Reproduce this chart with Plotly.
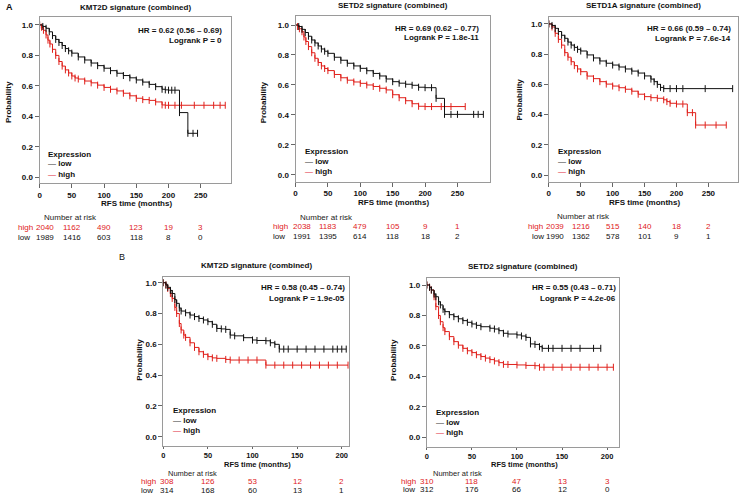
import plotly.graph_objects as go

W, H = 740, 496
RED = "#e0201b"
BLACK = "#111111"
BOX = "#9a9a9a"
FONT = "Liberation Sans, Arial, sans-serif"

# ---------------- data ----------------
# Panel A1: KMT2D signature (combined)
a1_low_t = [0, 5, 10, 15, 20, 25, 30, 35, 40, 45, 50, 60, 70, 80, 90, 100, 110, 120, 130, 140, 150, 160, 170, 180, 190, 195, 200, 205, 210, 217, 230, 238, 245]
a1_low_s = [1.0, 0.99, 0.978, 0.955, 0.93, 0.905, 0.885, 0.865, 0.845, 0.83, 0.815, 0.79, 0.77, 0.75, 0.733, 0.716, 0.70, 0.683, 0.668, 0.653, 0.639, 0.625, 0.61, 0.595, 0.578, 0.574, 0.572, 0.572, 0.572, 0.425, 0.289, 0.289, 0.289]
a1_high_t = [0, 3, 6, 10, 13, 16, 20, 25, 30, 35, 40, 45, 50, 55, 60, 70, 80, 90, 100, 110, 120, 130, 140, 150, 160, 170, 180, 190, 195, 200, 210, 220, 240, 255, 270, 280, 288]
a1_high_s = [1.0, 0.985, 0.965, 0.934, 0.9, 0.875, 0.84, 0.80, 0.76, 0.73, 0.705, 0.685, 0.665, 0.652, 0.645, 0.632, 0.62, 0.605, 0.59, 0.578, 0.567, 0.552, 0.535, 0.519, 0.51, 0.505, 0.495, 0.475, 0.473, 0.473, 0.473, 0.473, 0.473, 0.473, 0.473, 0.473, 0.473]

# Panel A2: SETD2 signature (combined)
a2_low_t = [0, 5, 10, 15, 20, 25, 30, 35, 40, 45, 50, 60, 70, 80, 90, 100, 110, 120, 130, 140, 150, 160, 170, 180, 190, 200, 210, 217, 230, 240, 250, 275, 282, 290]
a2_low_s = [1.0, 0.99, 0.971, 0.95, 0.925, 0.90, 0.88, 0.86, 0.84, 0.825, 0.811, 0.785, 0.765, 0.745, 0.727, 0.711, 0.695, 0.677, 0.66, 0.64, 0.622, 0.612, 0.605, 0.598, 0.585, 0.582, 0.582, 0.511, 0.404, 0.404, 0.404, 0.404, 0.404, 0.404]
a2_high_t = [0, 3, 6, 10, 13, 16, 20, 25, 30, 35, 40, 45, 50, 60, 70, 80, 90, 100, 110, 120, 130, 140, 150, 160, 170, 180, 190, 200, 210, 225, 240, 262]
a2_high_s = [1.0, 0.99, 0.975, 0.955, 0.92, 0.89, 0.856, 0.815, 0.778, 0.75, 0.727, 0.71, 0.696, 0.67, 0.648, 0.632, 0.62, 0.611, 0.60, 0.59, 0.578, 0.567, 0.535, 0.515, 0.495, 0.475, 0.458, 0.456, 0.456, 0.456, 0.456, 0.456]

# Panel A3: SETD1A signature (combined)
a3_low_t = [0, 5, 10, 15, 20, 25, 30, 35, 40, 45, 50, 60, 70, 80, 90, 100, 110, 120, 130, 140, 150, 160, 165, 170, 175, 180, 190, 200, 210, 245, 288]
a3_low_s = [1.0, 0.99, 0.971, 0.95, 0.925, 0.905, 0.88, 0.86, 0.845, 0.832, 0.821, 0.795, 0.775, 0.755, 0.74, 0.728, 0.715, 0.702, 0.688, 0.675, 0.656, 0.635, 0.618, 0.60, 0.58, 0.572, 0.572, 0.572, 0.572, 0.572, 0.572]
a3_high_t = [0, 5, 10, 15, 20, 25, 30, 35, 40, 45, 50, 60, 70, 80, 90, 100, 110, 120, 130, 140, 150, 160, 170, 180, 185, 190, 200, 210, 217, 225, 230, 245, 262, 278]
a3_high_s = [1.0, 0.98, 0.938, 0.898, 0.86, 0.81, 0.78, 0.75, 0.724, 0.702, 0.684, 0.655, 0.638, 0.618, 0.602, 0.589, 0.578, 0.568, 0.555, 0.535, 0.519, 0.512, 0.508, 0.498, 0.486, 0.475, 0.47, 0.47, 0.413, 0.413, 0.331, 0.331, 0.331, 0.331]

# Panel B1: KMT2D signature (combined)
b1_low_t = [0, 3, 5, 8, 10, 13, 15, 18, 20, 25, 30, 35, 40, 45, 50, 55, 60, 65, 70, 75, 80, 90, 100, 105, 115, 120, 125, 130, 135, 140, 150, 160, 170, 180, 190, 195, 200, 205]
b1_low_s = [1.0, 0.985, 0.97, 0.95, 0.93, 0.89, 0.866, 0.835, 0.816, 0.805, 0.79, 0.78, 0.768, 0.758, 0.747, 0.73, 0.703, 0.70, 0.697, 0.66, 0.655, 0.643, 0.628, 0.625, 0.623, 0.61, 0.60, 0.569, 0.569, 0.569, 0.569, 0.569, 0.569, 0.569, 0.569, 0.569, 0.569, 0.569]
b1_high_t = [0, 3, 5, 8, 10, 13, 15, 18, 20, 23, 25, 30, 35, 40, 45, 50, 55, 60, 70, 75, 85, 95, 105, 115, 125, 135, 145, 155, 165, 175, 185, 195, 207]
b1_high_s = [1.0, 0.985, 0.963, 0.93, 0.898, 0.84, 0.80, 0.735, 0.693, 0.66, 0.645, 0.61, 0.58, 0.552, 0.535, 0.52, 0.512, 0.509, 0.502, 0.498, 0.498, 0.498, 0.498, 0.465, 0.465, 0.465, 0.465, 0.465, 0.465, 0.465, 0.465, 0.465, 0.465]

# Panel B2: SETD2 signature (combined)
b2_low_t = [0, 3, 5, 8, 10, 13, 15, 18, 20, 25, 30, 35, 40, 45, 50, 55, 60, 70, 75, 80, 85, 90, 100, 105, 110, 115, 120, 125, 128, 135, 140, 150, 160, 170, 185, 193]
b2_low_s = [1.0, 0.985, 0.967, 0.94, 0.923, 0.89, 0.869, 0.84, 0.825, 0.805, 0.792, 0.778, 0.766, 0.755, 0.744, 0.735, 0.726, 0.716, 0.711, 0.70, 0.683, 0.678, 0.672, 0.665, 0.656, 0.613, 0.61, 0.595, 0.584, 0.584, 0.584, 0.584, 0.584, 0.584, 0.584, 0.584]
b2_high_t = [0, 3, 5, 8, 10, 13, 15, 18, 20, 25, 30, 35, 40, 45, 50, 55, 60, 65, 70, 75, 80, 85, 90, 100, 110, 120, 125, 130, 140, 150, 160, 170, 180, 190, 200, 207]
b2_high_s = [1.0, 0.985, 0.967, 0.923, 0.858, 0.80, 0.759, 0.72, 0.694, 0.661, 0.628, 0.605, 0.584, 0.568, 0.556, 0.542, 0.53, 0.52, 0.51, 0.501, 0.49, 0.479, 0.478, 0.475, 0.472, 0.47, 0.46, 0.46, 0.46, 0.46, 0.46, 0.46, 0.46, 0.46, 0.46, 0.46]

# Numbers at risk
a_risk_times = [0, 50, 100, 150, 200, 250]
b_risk_times = [0, 50, 100, 150, 200]
a1_risk_high = [2040, 1162, 490, 123, 19, 3]
a1_risk_low = [1989, 1416, 603, 118, 8, 0]
a2_risk_high = [2038, 1183, 479, 105, 9, 1]
a2_risk_low = [1991, 1395, 614, 118, 18, 2]
a3_risk_high = [2039, 1216, 515, 140, 18, 2]
a3_risk_low = [1990, 1362, 578, 101, 9, 1]
b1_risk_high = [308, 126, 53, 12, 2]
b1_risk_low = [314, 168, 60, 13, 1]
b2_risk_high = [310, 118, 47, 13, 3]
b2_risk_low = [312, 176, 66, 12, 0]

titles = ["KMT2D signature (combined)", "SETD2 signature (combined)", "SETD1A signature (combined)",
          "KMT2D signature (combined)", "SETD2 signature (combined)"]
hr_texts = ["HR = 0.62 (0.56 \u2013 0.69)", "HR = 0.69 (0.62 \u2013 0.77)", "HR = 0.66 (0.59 \u2013 0.74)",
            "HR = 0.58 (0.45 \u2013 0.74)", "HR = 0.55 (0.43 \u2013 0.71)"]
p_texts = ["Logrank P = 0", "Logrank P = 1.8e-11", "Logrank P = 7.6e-14",
           "Logrank P = 1.9e-05", "Logrank P = 4.2e-06"]
y_ticks = [0.0, 0.2, 0.4, 0.6, 0.8, 1.0]
a_x_ticks = [0, 50, 100, 150, 200, 250]
b_x_ticks = [0, 50, 100, 150, 200]

# ---------------- layout geometry (pixels) ----------------
panels = [
    dict(low=(a1_low_t, a1_low_s), high=(a1_high_t, a1_high_s), box=(37.7, 230, 16.7, 183.3),
         xr=[0, 297.5], yr=[-0.039, 1.054], xt=a_x_ticks, risk=(a_risk_times, a1_risk_high, a1_risk_low),
         title_y=7, hr_x=221.7, hr_y=(30, 40), ylab=(6, 102), xlab_y=203, xlab_size=8, nar_size=8, xtl=4,
         xts=8, leg=(45, 154), nar=(41, 218), rows=(227.7, 237.7), lab_x=(15, 15), first_shift=5),
    dict(low=(a2_low_t, a2_low_s), high=(a2_high_t, a2_high_s), box=(294.3, 489.3, 16, 181.7),
         xr=[0, 300.2], yr=[-0.045, 1.06], xt=a_x_ticks, risk=(a_risk_times, a2_risk_high, a2_risk_low),
         title_y=6, hr_x=479.3, hr_y=(28.3, 37.7), ylab=(262, 102), xlab_y=202.5, xlab_size=8, nar_size=8, xtl=4,
         xts=8, leg=(303.3, 151.7), nar=(298, 217), rows=(226.7, 236.7), lab_x=(270.5, 270.5), first_shift=6),
    dict(low=(a3_low_t, a3_low_s), high=(a3_high_t, a3_high_s), box=(548.3, 738, 17, 181.7),
         xr=[0, 296.4], yr=[-0.044, 1.046], xt=a_x_ticks, risk=(a_risk_times, a3_risk_high, a3_risk_low),
         title_y=6, hr_x=732.3, hr_y=(28.3, 38.3), ylab=(518, 100), xlab_y=202.5, xlab_size=8, nar_size=8, xtl=4,
         xts=8, leg=(556.7, 151.7), nar=(555, 216.5), rows=(226.7, 236), lab_x=(526.5, 530.5), first_shift=6),
    dict(low=(b1_low_t, b1_low_s), high=(b1_high_t, b1_high_s), box=(161.7, 348.3, 276.7, 446),
         xr=[0, 208.5], yr=[-0.06, 1.039], xt=b_x_ticks, risk=(b_risk_times, b1_risk_high, b1_risk_low),
         title_y=265, hr_x=345, hr_y=(287.7, 298.3), ylab=(137, 360), xlab_y=464, xlab_size=7.5,
         nar_size=7.5, xtl=2, xts=7.5, leg=(170.7, 410), nar=(165, 473.2), rows=(481.7, 490.1),
         lab_x=(138.3, 138.3), first_shift=4),
    dict(low=(b2_low_t, b2_low_s), high=(b2_high_t, b2_high_s), box=(426, 619, 278, 446.7),
         xr=[0, 213.6], yr=[-0.062, 1.046], xt=b_x_ticks, risk=(b_risk_times, b2_risk_high, b2_risk_low),
         title_y=266, hr_x=617, hr_y=(287.7, 298.3), ylab=(392, 360), xlab_y=464, xlab_size=7.5,
         nar_size=7.5, xtl=2, xts=7.5, leg=(434.3, 412.3), nar=(431, 473), rows=(481.5, 489.9),
         lab_x=(399, 401.5), first_shift=0),
]


def fx(px):
    return px / W


def fy(py):
    return 1 - py / H


fig = go.Figure()
annotations = []
layout_axes = {}


def note(text, x, y, xref="paper", xanchor="left", size=8, color="#111", **kw):
    annotations.append(dict(text=text, x=x, y=y, xref=xref, yref="paper", xanchor=xanchor, yanchor="middle",
                            showarrow=False, borderpad=0, font=dict(family=FONT, size=size, color=color), **kw))


for i, p in enumerate(panels):
    n = i + 1
    xa = "x" if n == 1 else f"x{n}"
    ya = "y" if n == 1 else f"y{n}"
    xkey = "xaxis" if n == 1 else f"xaxis{n}"
    ykey = "yaxis" if n == 1 else f"yaxis{n}"
    x0, x1, y0, y1 = p["box"]
    common = dict(showline=True, mirror=True, linecolor=BOX, linewidth=1, ticks="outside",
                  tickcolor="#666", tickwidth=1, showgrid=False, zeroline=False, fixedrange=True)
    layout_axes[xkey] = dict(domain=[fx(x0), fx(x1)], anchor=ya, range=p["xr"], tickvals=p["xt"],
                             ticklen=p["xtl"],
                             tickfont=dict(family=FONT, size=p["xts"], color="#111", weight="bold"), **common)
    layout_axes[ykey] = dict(domain=[fy(y1), fy(y0)], anchor=xa, range=p["yr"], tickvals=y_ticks,
                             tickformat=".1f", ticklen=4,
                             tickfont=dict(family=FONT, size=8, color="#111", weight="bold"), **common)

    for (t, s), col in ((p["high"], RED), (p["low"], BLACK)):
        fig.add_trace(go.Scatter(
            x=t, y=s, xaxis=xa, yaxis=ya, mode="lines+markers", showlegend=False,
            line=dict(color=col, width=1, shape="hv"),
            marker=dict(symbol="line-ns", size=5, color=col, line=dict(color=col, width=1)),
            hoverinfo="skip"))

    cx = (x0 + x1) / 2
    note(f"<b>{titles[i]}</b>", fx(cx), fy(p["title_y"]), xanchor="center")
    note(f"<b>{hr_texts[i]}</b>", fx(p["hr_x"]), fy(p["hr_y"][0]), xanchor="right")
    note(f"<b>{p_texts[i]}</b>", fx(p["hr_x"]), fy(p["hr_y"][1]), xanchor="right")
    note("<b>Probability</b>", fx(p["ylab"][0]), fy(p["ylab"][1]), xanchor="center", textangle=-90)
    note("<b>RFS time (months)</b>", fx(cx + 1), fy(p["xlab_y"]), xanchor="center", size=p["xlab_size"])
    lx, ly = p["leg"]
    note("<b>Expression</b>", fx(lx), fy(ly))
    for k, (lbl, col) in enumerate((("low", BLACK), ("high", RED))):
        note(f"<span style='color:{col}'>\u2014</span> <b>{lbl}</b>", fx(lx), fy(ly + 10 * (k + 1)))
    note("Number at risk", fx(p["nar"][0]), fy(p["nar"][1]), color="#222", size=p["nar_size"])
    times, rh, rl = p["risk"]
    for (vals, col, ry, lab, lbx) in ((rh, RED, p["rows"][0], "high", p["lab_x"][0]),
                                       (rl, "#111", p["rows"][1], "low", p["lab_x"][1])):
        note(lab, fx(lbx), fy(ry), color=col)
        for j, (tv, v) in enumerate(zip(times, vals)):
            note(str(v), tv, fy(ry), xref=xa, xanchor="center", color=col,
                 xshift=p["first_shift"] if j == 0 else 0)

note("<b>A</b>", fx(3), fy(7), size=9)
note("B", fx(120), fy(257), xanchor="center", size=9)

fig.update_layout(width=W, height=H, margin=dict(l=0, r=0, t=0, b=0), paper_bgcolor="white",
                  plot_bgcolor="white", annotations=annotations, showlegend=False,
                  font=dict(family=FONT), **layout_axes)
fig.write_html("out.html", config={"displayModeBar": False},
               post_script="document.body.style.margin='0';document.body.style.overflow='hidden';")
